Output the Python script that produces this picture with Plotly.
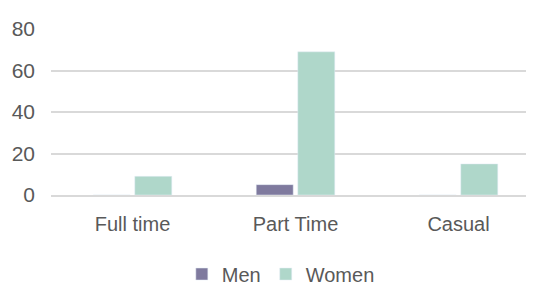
import plotly.graph_objects as go

categories = ["Full time", "Part Time", "Casual"]
men = [0, 5, 0]
women = [9, 69, 15]
y_ticks = [0, 20, 40, 60, 80]

fig = go.Figure()
fig.add_trace(go.Bar(name="Men", x=categories, y=men, marker_color="#7f7a9e"))
fig.add_trace(go.Bar(name="Women", x=categories, y=women, marker_color="#afd7ca"))

family = "Liberation Sans, Arial, sans-serif"
grey = "#595959"
fig.update_layout(
    width=534, height=286,
    margin=dict(l=43, r=2, t=21, b=99, autoexpand=False),
    paper_bgcolor="white", plot_bgcolor="white",
    barmode="group", bargap=0.49, bargroupgap=0.11,
    font=dict(family=family, size=20, color=grey),
    showlegend=True,
    legend=dict(orientation="h", x=0.47, xanchor="center", y=-0.476, yanchor="middle",
                font=dict(family=family, size=20, color=grey), itemwidth=30, tracegroupgap=0),
)
fig.update_yaxes(range=[0, 80], tickvals=y_ticks, showgrid=True, gridcolor="#d9d9d9",
                 gridwidth=1.5, zeroline=False, showline=False, ticks="", ticklen=0,
                 ticklabelstandoff=15, tickfont=dict(size=21))
fig.update_xaxes(showline=True, linecolor="#d9d9d9", linewidth=1.5, ticks="", showgrid=False,
                 ticklabelstandoff=10)
fig.write_html("out.html")
